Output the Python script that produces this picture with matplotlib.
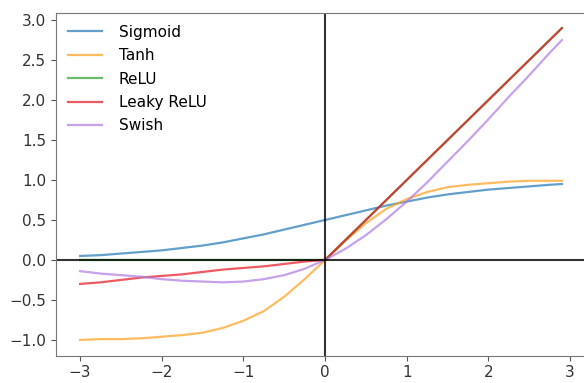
import matplotlib.pyplot as plt

# values
x = [-3.0, -2.75, -2.5, -2.25, -2.0, -1.75, -1.5, -1.25, -1.0, -0.75, -0.5, -0.25,
     0.0, 0.25, 0.5, 0.75, 1.0, 1.25, 1.5, 1.75, 2.0, 2.25, 2.5, 2.75, 2.9]

sigmoid = [0.05, 0.06, 0.08, 0.10, 0.12, 0.15, 0.18, 0.22, 0.27, 0.32, 0.38, 0.44,
           0.50, 0.56, 0.62, 0.68, 0.73, 0.78, 0.82, 0.85, 0.88, 0.90, 0.92, 0.94, 0.95]
tanh = [-1.0, -0.99, -0.99, -0.98, -0.96, -0.94, -0.91, -0.85, -0.76, -0.64, -0.46, -0.24,
        0.0, 0.24, 0.46, 0.64, 0.76, 0.85, 0.91, 0.94, 0.96, 0.98, 0.99, 0.99, 0.99]
relu = [0.0] * 13 + [0.25, 0.5, 0.75, 1.0, 1.25, 1.5, 1.75, 2.0, 2.25, 2.5, 2.75, 2.9]
leaky = [-0.30, -0.28, -0.25, -0.22, -0.20, -0.18, -0.15, -0.12, -0.10, -0.08, -0.05, -0.02,
         0.0, 0.25, 0.5, 0.75, 1.0, 1.25, 1.5, 1.75, 2.0, 2.25, 2.5, 2.75, 2.9]
swish = [-0.14, -0.17, -0.19, -0.21, -0.24, -0.26, -0.27, -0.28, -0.27, -0.24, -0.19, -0.11,
         0.0, 0.14, 0.31, 0.51, 0.73, 0.97, 1.23, 1.49, 1.76, 2.04, 2.31, 2.59, 2.75]

labels = ["Sigmoid", "Tanh", "ReLU", "Leaky ReLU", "Swish"]
series = [sigmoid, tanh, relu, leaky, swish]
colors = ["#1f77b4", "#ff9f1c", "#2ca02c", "#e8141e", "#b07ae0"]

fig = plt.figure(figsize=(5.84, 3.83), dpi=100)
ax = fig.add_axes([56 / 584, 1 - 355.5 / 383, 530 / 584, 343 / 383])

for ys, lab, c in zip(series, labels, colors):
    ax.plot(x, ys, label=lab, color=c, lw=1.6, alpha=0.7)

ax.axhline(0, color="black", lw=1.5, alpha=0.8)
ax.axvline(0, color="black", lw=1.5, alpha=0.8)

for s in ax.spines.values():
    s.set_color("#777777")
ax.tick_params(colors="#555555", labelcolor="#333333", labelsize=11)

ax.legend(loc="upper left", frameon=False, fontsize=11, handlelength=2.2,
          handletextpad=1.1, labelspacing=0.55, borderaxespad=0.4)

fig.savefig("out.png", dpi=100)
